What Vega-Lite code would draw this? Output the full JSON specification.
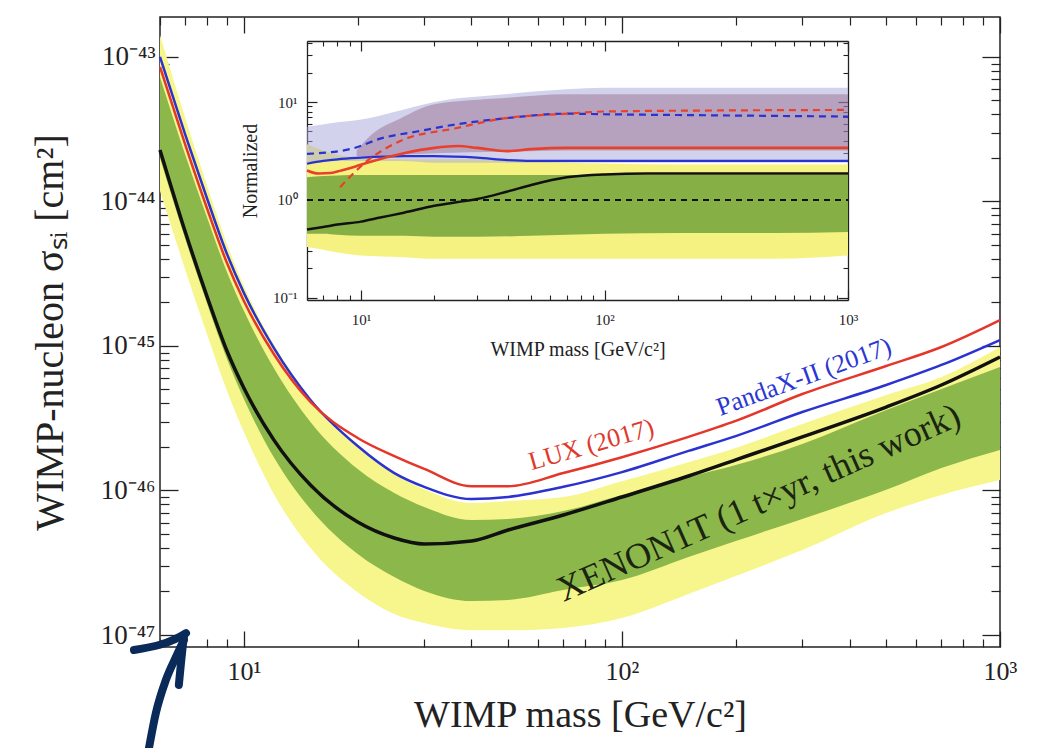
{
"$schema": "https://vega.github.io/schema/vega-lite/v6.json",
"width": 840, "height": 630,
"autosize": {"type": "none"},
"padding": {"left": 160, "top": 17, "right": 39, "bottom": 101},
"background": "white",
"config": {
  "view": {"stroke": "#222", "strokeWidth": 1.5},
  "font": "Liberation Serif",
  "axis": {"labelFont": "Liberation Serif", "titleFont": "Liberation Serif", "titleFontWeight": "normal", "labelColor": "#222", "titleColor": "#222", "tickColor": "#222", "grid": false, "labelFlush": false, "labelOverlap": false, "domain": false}
},
"datasets": {
  "main": [
    {"m":6,"black":2.27e-44,"gTop":7.27e-44,"gBot":2.00e-44,"yTop":1.42e-43,"yBot":1.18e-44,"blue":1.00e-43,"red":8.53e-44},
    {"m":7,"black":6.15e-45,"gTop":2.10e-44,"gBot":5.50e-45,"yTop":3.78e-44,"yBot":3.36e-45,"blue":2.89e-44,"red":2.46e-44},
    {"m":8,"black":2.18e-45,"gTop":7.69e-45,"gBot":1.95e-45,"yTop":1.28e-44,"yBot":1.19e-45,"blue":1.04e-44,"red":8.87e-45},
    {"m":9,"black":9.38e-46,"gTop":3.30e-45,"gBot":8.26e-46,"yTop":5.16e-45,"yBot":4.96e-46,"blue":4.40e-45,"red":3.81e-45},
    {"m":10,"black":5.12e-46,"gTop":1.75e-45,"gBot":4.30e-46,"yTop":2.60e-45,"yBot":2.54e-46,"blue":2.33e-45,"red":2.05e-45},
    {"m":12,"black":2.24e-46,"gTop":7.04e-46,"gBot":1.70e-46,"yTop":1.03e-45,"yBot":9.46e-47,"blue":9.69e-46,"red":8.80e-46},
    {"m":15,"black":1.09e-46,"gTop":2.98e-46,"gBot":7.45e-47,"yTop":4.37e-46,"yBot":4.00e-47,"blue":4.23e-46,"red":4.10e-46},
    {"m":20,"black":6.05e-47,"gTop":1.41e-46,"gBot":3.64e-47,"yTop":2.06e-46,"yBot":1.98e-47,"blue":2.03e-46,"red":2.31e-46},
    {"m":25,"black":4.69e-47,"gTop":9.61e-47,"gBot":2.52e-47,"yTop":1.30e-46,"yBot":1.40e-47,"blue":1.32e-46,"red":1.73e-46},
    {"m":30,"black":4.26e-47,"gTop":7.69e-47,"gBot":2.02e-47,"yTop":1.02e-46,"yBot":1.21e-47,"blue":1.06e-46,"red":1.41e-46},
    {"m":40,"black":4.47e-47,"gTop":6.25e-47,"gBot":1.72e-47,"yTop":8.19e-47,"yBot":1.08e-47,"blue":8.73e-47,"red":1.07e-46},
    {"m":50,"black":5.33e-47,"gTop":6.35e-47,"gBot":1.75e-47,"yTop":8.46e-47,"yBot":1.08e-47,"blue":9.02e-47,"red":1.07e-46},
    {"m":70,"black":6.77e-47,"gTop":7.21e-47,"gBot":2.05e-47,"yTop":9.02e-47,"yBot":1.12e-47,"blue":1.06e-46,"red":1.32e-46},
    {"m":100,"black":9.02e-47,"gTop":9.31e-47,"gBot":2.40e-47,"yTop":1.16e-46,"yBot":1.31e-47,"blue":1.34e-46,"red":1.70e-46},
    {"m":150,"black":1.26e-46,"gTop":1.24e-46,"gBot":3.47e-47,"yTop":1.57e-46,"yBot":1.92e-47,"blue":1.88e-46,"red":2.35e-46},
    {"m":200,"black":1.63e-46,"gTop":1.50e-46,"gBot":4.47e-47,"yTop":1.97e-46,"yBot":2.56e-47,"blue":2.38e-46,"red":3.03e-46},
    {"m":300,"black":2.35e-46,"gTop":2.10e-46,"gBot":6.35e-47,"yTop":2.89e-46,"yBot":3.87e-47,"blue":3.49e-46,"red":4.65e-46},
    {"m":500,"black":3.78e-46,"gTop":3.61e-46,"gBot":1.01e-46,"yTop":4.58e-46,"yBot":6.99e-47,"blue":5.37e-46,"red":7.27e-46},
    {"m":700,"black":5.37e-46,"gTop":5.04e-46,"gBot":1.43e-46,"yTop":6.10e-46,"yBot":9.31e-47,"blue":7.39e-46,"red":9.84e-46},
    {"m":1000,"black":8.39e-46,"gTop":7.16e-46,"gBot":1.91e-46,"yTop":9.84e-46,"yBot":1.18e-46,"blue":1.10e-45,"red":1.51e-45}
  ],
  "arrow": [
    {"part":"a","i":0,"m":5.61,"s":1.65e-48},
    {"part":"a","i":1,"m":5.85,"s":2.88e-48},
    {"part":"a","i":2,"m":6.22,"s":4.89e-48},
    {"part":"a","i":3,"m":6.65,"s":7.27e-48},
    {"part":"a","i":4,"m":6.94,"s":9.23e-48},
    {"part":"b","i":0,"m":5.12,"s":7.87e-48},
    {"part":"b","i":1,"m":7.03,"s":1.03e-47},
    {"part":"b","i":2,"m":6.73,"s":4.51e-48}
  ],
  "iband": [
    {"m":6,"yTop":3.7,"yBot":0.33,"gTop":1.7,"gBot":0.45},
    {"m":7,"yTop":3.2,"yBot":0.31,"gTop":1.75,"gBot":0.45},
    {"m":8,"yTop":2.9,"yBot":0.29,"gTop":1.78,"gBot":0.44},
    {"m":10,"yTop":2.7,"yBot":0.27,"gTop":1.8,"gBot":0.43},
    {"m":15,"yTop":2.6,"yBot":0.26,"gTop":1.8,"gBot":0.43},
    {"m":20,"yTop":2.6,"yBot":0.25,"gTop":1.8,"gBot":0.42},
    {"m":30,"yTop":2.6,"yBot":0.25,"gTop":1.8,"gBot":0.42},
    {"m":50,"yTop":2.5,"yBot":0.25,"gTop":1.8,"gBot":0.43},
    {"m":70,"yTop":2.4,"yBot":0.25,"gTop":1.8,"gBot":0.44},
    {"m":100,"yTop":2.35,"yBot":0.25,"gTop":1.8,"gBot":0.45},
    {"m":200,"yTop":2.3,"yBot":0.25,"gTop":1.8,"gBot":0.46},
    {"m":500,"yTop":2.3,"yBot":0.25,"gTop":1.8,"gBot":0.46},
    {"m":1000,"yTop":2.3,"yBot":0.27,"gTop":1.8,"gBot":0.47}
  ],
  "ilav": [
    {"m":6,"lo":2.4,"hi":5.6},{"m":8,"lo":2.5,"hi":6.2},{"m":10.6,"lo":2.5,"hi":6.8},{"m":14.5,"lo":2.5,"hi":8.2},
    {"m":20,"lo":2.4,"hi":10},{"m":39,"lo":2.4,"hi":12},{"m":70,"lo":2.4,"hi":13.5},{"m":100,"lo":2.4,"hi":14},{"m":1000,"lo":2.4,"hi":14}
  ],
  "imauve": [
    {"m":9.6,"lo":2.8,"hi":3.2},{"m":11,"lo":2.8,"hi":4.6},{"m":14.5,"lo":2.9,"hi":6.8},{"m":20,"lo":3.0,"hi":9.5},
    {"m":39,"lo":3.1,"hi":11},{"m":70,"lo":3.2,"hi":12},{"m":100,"lo":3.2,"hi":12},{"m":1000,"lo":3.2,"hi":12}
  ],
  "iunity": [{"m":6,"v":1},{"m":1000,"v":1}],
  "iblack": [
    {"m":6,"v":0.5},{"m":7,"v":0.53},{"m":8,"v":0.56},{"m":10,"v":0.6},{"m":12,"v":0.66},{"m":15,"v":0.74},{"m":20,"v":0.87},
    {"m":25,"v":0.95},{"m":30,"v":1.02},{"m":40,"v":1.22},{"m":50,"v":1.42},{"m":70,"v":1.7},{"m":100,"v":1.82},{"m":150,"v":1.86},{"m":1000,"v":1.86}
  ],
  "iblue": [
    {"m":6,"v":2.34},{"m":7,"v":2.5},{"m":8,"v":2.6},{"m":10,"v":2.7},{"m":15,"v":2.8},{"m":20,"v":2.8},{"m":30,"v":2.7},
    {"m":40,"v":2.55},{"m":50,"v":2.5},{"m":100,"v":2.5},{"m":1000,"v":2.5}
  ],
  "ired": [
    {"m":6,"v":2.0},{"m":6.7,"v":1.86},{"m":7.5,"v":1.88},{"m":8.3,"v":2.0},{"m":9.5,"v":2.2},{"m":10.6,"v":2.4},{"m":15,"v":3.0},
    {"m":20,"v":3.4},{"m":25,"v":3.55},{"m":30,"v":3.4},{"m":40,"v":3.15},{"m":50,"v":3.3},{"m":70,"v":3.4},{"m":1000,"v":3.4}
  ],
  "ibluedash": [
    {"m":6,"v":2.95},{"m":9,"v":3.3},{"m":12.3,"v":4.3},{"m":17,"v":5.0},{"m":24.5,"v":5.9},{"m":38.6,"v":6.8},{"m":70,"v":7.6},
    {"m":100,"v":7.5},{"m":300,"v":7.3},{"m":1000,"v":7.1}
  ],
  "ireddash": [
    {"m":8.2,"v":1.35},{"m":10.6,"v":2.5},{"m":14.5,"v":4.0},{"m":24.5,"v":5.4},{"m":38.6,"v":6.8},{"m":70,"v":7.6},
    {"m":100,"v":8.0},{"m":300,"v":8.2},{"m":1000,"v":8.3}
  ]
},
"resolve": {"scale": {"x": "independent", "y": "independent"}, "axis": {"x": "independent", "y": "independent"}},
"layer": [
  {
    "data": {"name": "main"},
    "mark": {"type": "area", "color": "#f7f68c", "interpolate": "monotone"},
    "encoding": {
      "x": {"field": "m", "type": "quantitative", "scale": {"type": "log", "domain": [6, 1000], "nice": false},
        "axis": {"orient": "bottom", "values": [10, 100, 1000], "ticks": false, "labelExpr": "datum.value == 10 ? '10¹' : datum.value == 100 ? '10²' : '10³'", "labelFontSize": 26, "labelPadding": 11, "title": "WIMP mass [GeV/c²]", "titleFontSize": 38, "titlePadding": 12}},
      "y": {"field": "yBot", "type": "quantitative", "scale": {"type": "log", "domain": [8.26e-48, 1.89e-43], "nice": false},
        "axis": {"orient": "left", "values": [1e-47, 1e-46, 1e-45, 1e-44, 1e-43], "ticks": false, "labelExpr": "datum.value == 1e-43 ? '10⁻⁴³' : datum.value == 1e-44 ? '10⁻⁴⁴' : datum.value == 1e-45 ? '10⁻⁴⁵' : datum.value == 1e-46 ? '10⁻⁴⁶' : '10⁻⁴⁷'", "labelFontSize": 27, "labelPadding": 5, "title": "WIMP-nucleon σₛᵢ [cm²]", "titleFontSize": 40, "titlePadding": 30}},
      "y2": {"field": "yTop"}
    }
  },
  {
    "data": {"name": "main"},
    "mark": {"type": "area", "color": "#8cb84b", "interpolate": "monotone"},
    "encoding": {
      "x": {"field": "m", "type": "quantitative", "scale": {"type": "log", "domain": [6, 1000], "nice": false},
        "axis": {"orient": "bottom", "values": [10, 100, 1000], "labels": false, "tickSize": -16, "tickWidth": 1.3, "title": null}},
      "y": {"field": "gBot", "type": "quantitative", "scale": {"type": "log", "domain": [8.26e-48, 1.89e-43], "nice": false},
        "axis": {"orient": "left", "values": [1e-47, 1e-46, 1e-45, 1e-44, 1e-43], "labels": false, "tickSize": -18, "tickWidth": 1.3, "title": null}},
      "y2": {"field": "gTop"}
    }
  },
  {
    "data": {"name": "main"},
    "mark": {"type": "line", "color": "#111111", "strokeWidth": 3.5, "interpolate": "monotone"},
    "encoding": {
      "x": {"field": "m", "type": "quantitative", "scale": {"type": "log", "domain": [6, 1000], "nice": false},
        "axis": {"orient": "bottom", "values": [6,7,8,9,20,30,40,50,60,70,80,90,200,300,400,500,600,700,800,900], "labels": false, "tickSize": -8, "tickWidth": 1.2, "title": null}},
      "y": {"field": "black", "type": "quantitative", "scale": {"type": "log", "domain": [8.26e-48, 1.89e-43], "nice": false},
        "axis": {"orient": "left", "values": [2e-47,3e-47,4e-47,5e-47,6e-47,7e-47,8e-47,9e-47,2e-46,3e-46,4e-46,5e-46,6e-46,7e-46,8e-46,9e-46,2e-45,3e-45,4e-45,5e-45,6e-45,7e-45,8e-45,9e-45,2e-44,3e-44,4e-44,5e-44,6e-44,7e-44,8e-44,9e-44], "labels": false, "tickSize": -9, "tickWidth": 1.2, "title": null}}
    }
  },
  {
    "data": {"name": "main"},
    "mark": {"type": "line", "color": "#2a32d0", "strokeWidth": 2.5, "interpolate": "monotone"},
    "encoding": {
      "x": {"field": "m", "type": "quantitative", "scale": {"type": "log", "domain": [6, 1000], "nice": false},
        "axis": {"orient": "top", "values": [10, 100, 1000], "labels": false, "tickSize": -16, "tickWidth": 1.3, "title": null}},
      "y": {"field": "blue", "type": "quantitative", "scale": {"type": "log", "domain": [8.26e-48, 1.89e-43], "nice": false},
        "axis": {"orient": "right", "values": [1e-47, 1e-46, 1e-45, 1e-44, 1e-43], "labels": false, "tickSize": -18, "tickWidth": 1.3, "title": null}}
    }
  },
  {
    "data": {"name": "main"},
    "mark": {"type": "line", "color": "#e4362b", "strokeWidth": 2.5, "interpolate": "monotone"},
    "encoding": {
      "x": {"field": "m", "type": "quantitative", "scale": {"type": "log", "domain": [6, 1000], "nice": false},
        "axis": {"orient": "top", "values": [6,7,8,9,20,30,40,50,60,70,80,90,200,300,400,500,600,700,800,900], "labels": false, "tickSize": -8, "tickWidth": 1.2, "title": null}},
      "y": {"field": "red", "type": "quantitative", "scale": {"type": "log", "domain": [8.26e-48, 1.89e-43], "nice": false},
        "axis": {"orient": "right", "values": [2e-47,3e-47,4e-47,5e-47,6e-47,7e-47,8e-47,9e-47,2e-46,3e-46,4e-46,5e-46,6e-46,7e-46,8e-46,9e-46,2e-45,3e-45,4e-45,5e-45,6e-45,7e-45,8e-45,9e-45,2e-44,3e-44,4e-44,5e-44,6e-44,7e-44,8e-44,9e-44], "labels": false, "tickSize": -9, "tickWidth": 1.2, "title": null}}
    }
  },
  {
    "data": {"values": [{"label": "LUX (2017)", "m": 83, "s": 2.07e-46}]},
    "mark": {"type": "text", "font": "Liberation Serif", "fontSize": 26, "color": "#e0392c", "angle": 344, "align": "center", "baseline": "middle"},
    "encoding": {
      "x": {"field": "m", "type": "quantitative", "scale": {"type": "log", "domain": [6, 1000], "nice": false}, "axis": null},
      "y": {"field": "s", "type": "quantitative", "scale": {"type": "log", "domain": [8.26e-48, 1.89e-43], "nice": false}, "axis": null},
      "text": {"field": "label"}
    }
  },
  {
    "data": {"values": [{"label": "PandaX-II (2017)", "m": 303, "s": 6.1e-46}]},
    "mark": {"type": "text", "font": "Liberation Serif", "fontSize": 26, "color": "#2b36d4", "angle": 340, "align": "center", "baseline": "middle"},
    "encoding": {
      "x": {"field": "m", "type": "quantitative", "scale": {"type": "log", "domain": [6, 1000], "nice": false}, "axis": null},
      "y": {"field": "s", "type": "quantitative", "scale": {"type": "log", "domain": [8.26e-48, 1.89e-43], "nice": false}, "axis": null},
      "text": {"field": "label"}
    }
  },
  {
    "data": {"values": [{"label": "XENON1T (1 t×yr, this work)", "m": 230, "s": 8.19e-47}]},
    "mark": {"type": "text", "font": "Liberation Serif", "fontSize": 36, "color": "#1b2410", "angle": 336, "align": "center", "baseline": "middle"},
    "encoding": {
      "x": {"field": "m", "type": "quantitative", "scale": {"type": "log", "domain": [6, 1000], "nice": false}, "axis": null},
      "y": {"field": "s", "type": "quantitative", "scale": {"type": "log", "domain": [8.26e-48, 1.89e-43], "nice": false}, "axis": null},
      "text": {"field": "label"}
    }
  },
  {
    "data": {"name": "arrow"},
    "mark": {"type": "line", "color": "#0a2b5a", "strokeWidth": 8, "strokeCap": "round", "strokeJoin": "round", "clip": false, "interpolate": "monotone"},
    "encoding": {
      "x": {"field": "m", "type": "quantitative", "scale": {"type": "log", "domain": [6, 1000], "nice": false}, "axis": null},
      "y": {"field": "s", "type": "quantitative", "scale": {"type": "log", "domain": [8.26e-48, 1.89e-43], "nice": false}, "axis": null},
      "detail": {"field": "part"},
      "order": {"field": "i"}
    }
  },
  {
    "data": {"name": "iband"},
    "mark": {"type": "area", "color": "#f5f282", "interpolate": "monotone"},
    "encoding": {
      "x": {"field": "m", "type": "quantitative", "scale": {"type": "log", "domain": [6, 1000], "nice": false, "range": [147, 688]},
        "axis": {"orient": "bottom", "offset": -347, "values": [10, 100, 1000], "ticks": false, "domain": true, "domainColor": "#222", "domainWidth": 1.3, "labelExpr": "datum.value == 10 ? '10¹' : datum.value == 100 ? '10²' : '10³'", "labelFontSize": 15, "labelPadding": 12, "title": "WIMP mass [GeV/c²]", "titleFontSize": 20, "titlePadding": 12}},
      "y": {"field": "yBot", "type": "quantitative", "scale": {"type": "log", "domain": [0.095, 42], "nice": false, "range": [283, 24]},
        "axis": {"orient": "left", "offset": -147, "values": [0.1, 1, 10], "ticks": false, "domain": true, "domainColor": "#222", "domainWidth": 1.3, "labelExpr": "datum.value == 0.1 ? '10⁻¹' : datum.value == 1 ? '10⁰' : '10¹'", "labelFontSize": 15, "labelPadding": 10, "title": "Normalized", "titleFontSize": 20, "titlePadding": 12}},
      "y2": {"field": "yTop"}
    }
  },
  {
    "data": {"name": "iband"},
    "mark": {"type": "area", "color": "#86b046", "interpolate": "monotone"},
    "encoding": {
      "x": {"field": "m", "type": "quantitative", "scale": {"type": "log", "domain": [6, 1000], "nice": false, "range": [147, 688]},
        "axis": {"orient": "bottom", "offset": -347, "values": [10, 100, 1000], "labels": false, "tickSize": -10, "tickWidth": 1.2, "title": null}},
      "y": {"field": "gBot", "type": "quantitative", "scale": {"type": "log", "domain": [0.095, 42], "nice": false, "range": [283, 24]},
        "axis": {"orient": "left", "offset": -147, "values": [0.1, 1, 10], "labels": false, "tickSize": -10, "tickWidth": 1.2, "title": null}},
      "y2": {"field": "gTop"}
    }
  },
  {
    "data": {"name": "ilav"},
    "mark": {"type": "area", "color": "#a6a6dc", "opacity": 0.5, "interpolate": "monotone"},
    "encoding": {
      "x": {"field": "m", "type": "quantitative", "scale": {"type": "log", "domain": [6, 1000], "nice": false, "range": [147, 688]},
        "axis": {"orient": "bottom", "offset": -347, "values": [6,7,8,9,20,30,40,50,60,70,80,90,200,300,400,500,600,700,800,900], "labels": false, "tickSize": -5, "tickWidth": 1.1, "title": null}},
      "y": {"field": "lo", "type": "quantitative", "scale": {"type": "log", "domain": [0.095, 42], "nice": false, "range": [283, 24]},
        "axis": {"orient": "left", "offset": -147, "values": [0.2,0.3,0.4,0.5,0.6,0.7,0.8,0.9,2,3,4,5,6,7,8,9,20,30,40], "labels": false, "tickSize": -5, "tickWidth": 1.1, "title": null}},
      "y2": {"field": "hi"}
    }
  },
  {
    "data": {"name": "imauve"},
    "mark": {"type": "area", "color": "#8c5a7a", "opacity": 0.4, "interpolate": "monotone"},
    "encoding": {
      "x": {"field": "m", "type": "quantitative", "scale": {"type": "log", "domain": [6, 1000], "nice": false, "range": [147, 688]},
        "axis": {"orient": "top", "offset": -24, "values": [10, 100, 1000], "labels": false, "tickSize": -10, "tickWidth": 1.2, "domain": true, "domainColor": "#222", "domainWidth": 1.3, "title": null}},
      "y": {"field": "lo", "type": "quantitative", "scale": {"type": "log", "domain": [0.095, 42], "nice": false, "range": [283, 24]},
        "axis": {"orient": "right", "offset": -152, "values": [0.1, 1, 10], "labels": false, "tickSize": -10, "tickWidth": 1.2, "domain": true, "domainColor": "#222", "domainWidth": 1.3, "title": null}},
      "y2": {"field": "hi"}
    }
  },
  {
    "data": {"name": "iunity"},
    "mark": {"type": "line", "color": "#111111", "strokeWidth": 2, "strokeDash": [6, 5]},
    "encoding": {
      "x": {"field": "m", "type": "quantitative", "scale": {"type": "log", "domain": [6, 1000], "nice": false, "range": [147, 688]},
        "axis": {"orient": "top", "offset": -24, "values": [6,7,8,9,20,30,40,50,60,70,80,90,200,300,400,500,600,700,800,900], "labels": false, "tickSize": -5, "tickWidth": 1.1, "title": null}},
      "y": {"field": "v", "type": "quantitative", "scale": {"type": "log", "domain": [0.095, 42], "nice": false, "range": [283, 24]},
        "axis": {"orient": "right", "offset": -152, "values": [0.2,0.3,0.4,0.5,0.6,0.7,0.8,0.9,2,3,4,5,6,7,8,9,20,30,40], "labels": false, "tickSize": -5, "tickWidth": 1.1, "title": null}}
    }
  },
  {
    "data": {"name": "iblack"},
    "mark": {"type": "line", "color": "#111111", "strokeWidth": 2.5, "interpolate": "monotone"},
    "encoding": {
      "x": {"field": "m", "type": "quantitative", "scale": {"type": "log", "domain": [6, 1000], "nice": false, "range": [147, 688]}, "axis": null},
      "y": {"field": "v", "type": "quantitative", "scale": {"type": "log", "domain": [0.095, 42], "nice": false, "range": [283, 24]}, "axis": null}
    }
  },
  {
    "data": {"name": "iblue"},
    "mark": {"type": "line", "color": "#2a32d0", "strokeWidth": 2.2, "interpolate": "monotone"},
    "encoding": {
      "x": {"field": "m", "type": "quantitative", "scale": {"type": "log", "domain": [6, 1000], "nice": false, "range": [147, 688]}, "axis": null},
      "y": {"field": "v", "type": "quantitative", "scale": {"type": "log", "domain": [0.095, 42], "nice": false, "range": [283, 24]}, "axis": null}
    }
  },
  {
    "data": {"name": "ired"},
    "mark": {"type": "line", "color": "#e8402a", "strokeWidth": 2.6, "interpolate": "monotone"},
    "encoding": {
      "x": {"field": "m", "type": "quantitative", "scale": {"type": "log", "domain": [6, 1000], "nice": false, "range": [147, 688]}, "axis": null},
      "y": {"field": "v", "type": "quantitative", "scale": {"type": "log", "domain": [0.095, 42], "nice": false, "range": [283, 24]}, "axis": null}
    }
  },
  {
    "data": {"name": "ibluedash"},
    "mark": {"type": "line", "color": "#2a32d0", "strokeWidth": 2.2, "strokeDash": [7, 5], "interpolate": "monotone"},
    "encoding": {
      "x": {"field": "m", "type": "quantitative", "scale": {"type": "log", "domain": [6, 1000], "nice": false, "range": [147, 688]}, "axis": null},
      "y": {"field": "v", "type": "quantitative", "scale": {"type": "log", "domain": [0.095, 42], "nice": false, "range": [283, 24]}, "axis": null}
    }
  },
  {
    "data": {"name": "ireddash"},
    "mark": {"type": "line", "color": "#e8402a", "strokeWidth": 2.2, "strokeDash": [7, 5], "interpolate": "monotone"},
    "encoding": {
      "x": {"field": "m", "type": "quantitative", "scale": {"type": "log", "domain": [6, 1000], "nice": false, "range": [147, 688]}, "axis": null},
      "y": {"field": "v", "type": "quantitative", "scale": {"type": "log", "domain": [0.095, 42], "nice": false, "range": [283, 24]}, "axis": null}
    }
  }
]
}
